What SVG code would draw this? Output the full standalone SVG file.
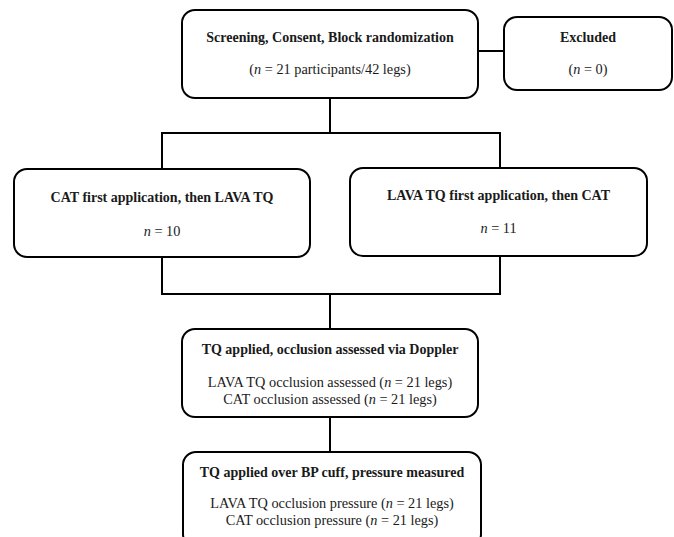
<svg xmlns="http://www.w3.org/2000/svg" width="674" height="537" viewBox="0 0 674 537">
<style>
.box{fill:#fff;stroke:#000;stroke-width:2}
.ln{fill:none;stroke:#000;stroke-width:2}
text{font-family:"Liberation Serif","Times New Roman",serif;font-size:14.3px;fill:#1a1a1a;text-anchor:middle}
.b{font-weight:bold;font-size:14px}
.i{font-style:italic}
</style>
<rect width="674" height="537" fill="#fff"/>
<g id="connectors">
<path class="ln" d="M478,51 H504"/>
<path class="ln" d="M330,98 V133"/>
<path class="ln" d="M162,169 V133 H500 V168"/>
<path class="ln" d="M162,257 V294 H500 V256"/>
<path class="ln" d="M330,294 V329"/>
<path class="ln" d="M330,417 V452"/>
</g>
<g id="screening">
<rect class="box" x="182" y="10" width="296" height="88" rx="13"/>
<text class="b" x="330" y="42">Screening, Consent, Block randomization</text>
<text x="330" y="74">(<tspan class="i">n</tspan> = 21 participants/42 legs)</text>
</g>
<g id="excluded">
<rect class="box" x="504" y="17" width="168" height="73" rx="13"/>
<text class="b" x="588" y="42">Excluded</text>
<text x="588" y="74">(<tspan class="i">n</tspan> = 0)</text>
</g>
<g id="cat-first">
<rect class="box" x="14" y="169" width="296" height="88" rx="13"/>
<text class="b" x="162" y="202">CAT first application, then LAVA TQ</text>
<text x="162" y="236"><tspan class="i">n</tspan> = 10</text>
</g>
<g id="lava-first">
<rect class="box" x="350" y="168" width="297" height="88" rx="13"/>
<text class="b" x="498.5" y="200">LAVA TQ first application, then CAT</text>
<text x="498.5" y="233"><tspan class="i">n</tspan> = 11</text>
</g>
<g id="doppler">
<rect class="box" x="182" y="329" width="296" height="88" rx="13"/>
<text class="b" x="330" y="354">TQ applied, occlusion assessed via Doppler</text>
<text x="330" y="387">LAVA TQ occlusion assessed (<tspan class="i">n</tspan> = 21 legs)</text>
<text x="330" y="404">CAT occlusion assessed (<tspan class="i">n</tspan> = 21 legs)</text>
</g>
<g id="pressure">
<rect class="box" x="183" y="452" width="298" height="95" rx="13"/>
<text class="b" x="332" y="477">TQ applied over BP cuff, pressure measured</text>
<text x="332" y="508">LAVA TQ occlusion pressure (<tspan class="i">n</tspan> = 21 legs)</text>
<text x="332" y="525">CAT occlusion pressure (<tspan class="i">n</tspan> = 21 legs)</text>
</g>
</svg>
